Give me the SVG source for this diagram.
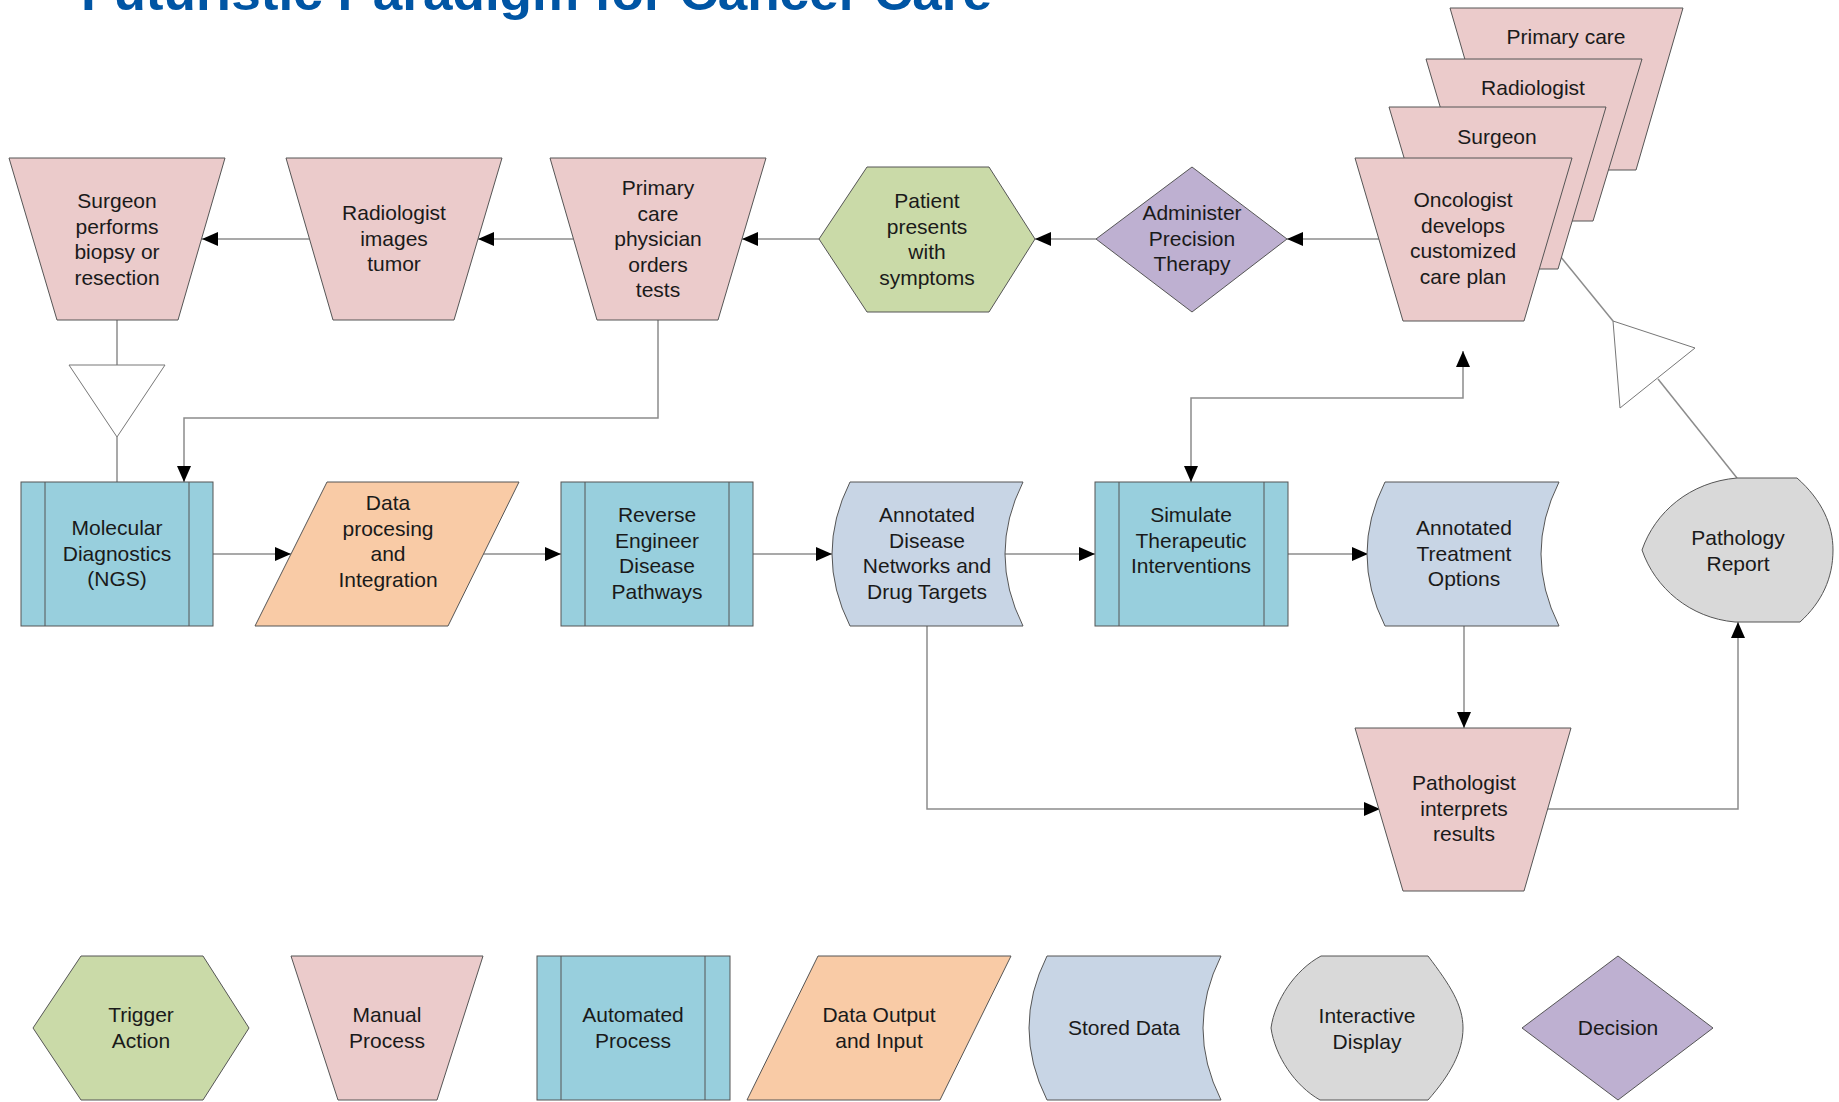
<svg xmlns="http://www.w3.org/2000/svg" width="1839" height="1102" viewBox="0 0 1839 1102">
<defs>
<marker id="ah" markerUnits="userSpaceOnUse" markerWidth="16" markerHeight="14" refX="16" refY="7" orient="auto-start-reverse">
<path d="M0,0 L16,7 L0,14 Z" fill="#000"/>
</marker>
<style>
text{font-family:"Liberation Sans",Arial,sans-serif;font-size:21px;fill:#1a1a1a;text-anchor:middle}
.title{font-weight:bold;font-size:50px;fill:#0055a4;text-anchor:start}
.man{fill:#ebcbcb;stroke:#555;stroke-width:1}
.auto{fill:#98cfdd;stroke:#555;stroke-width:1}
.io{fill:#f9cba6;stroke:#555;stroke-width:1}
.sto{fill:#c8d5e5;stroke:#555;stroke-width:1}
.disp{fill:#d9d9d9;stroke:#555;stroke-width:1}
.dec{fill:#beb0d1;stroke:#555;stroke-width:1}
.trig{fill:#cadaa8;stroke:#555;stroke-width:1}
.bar{fill:none;stroke:#555;stroke-width:1}
.c{fill:none;stroke:#8c8c8c;stroke-width:1.5}
.ca{fill:none;stroke:#8c8c8c;stroke-width:1.5;marker-end:url(#ah)}
.tri{fill:#fff;stroke:#777;stroke-width:1}
</style>
</defs>

<text class="title" x="81" y="10" textLength="911" lengthAdjust="spacingAndGlyphs">Futuristic Paradigm for Cancer Care</text>

<g id="connectors">
<line class="ca" x1="309" y1="239" x2="202" y2="239"/>
<line class="ca" x1="573" y1="239" x2="478" y2="239"/>
<line class="ca" x1="819" y1="239" x2="742" y2="239"/>
<line class="ca" x1="1096" y1="239" x2="1035" y2="239"/>
<line class="ca" x1="1379" y1="239" x2="1287" y2="239"/>
<line class="c" x1="117" y1="320" x2="117" y2="365"/>
<line class="c" x1="117" y1="437" x2="117" y2="482"/>
<polyline class="ca" points="658,320 658,418 184,418 184,482"/>
<line class="ca" x1="213" y1="554" x2="291" y2="554"/>
<line class="ca" x1="483" y1="554" x2="561" y2="554"/>
<line class="ca" x1="753" y1="554" x2="832" y2="554"/>
<line class="ca" x1="1005" y1="554" x2="1095" y2="554"/>
<line class="ca" x1="1288" y1="554" x2="1368" y2="554"/>
<polyline class="ca" style="marker-start:url(#ah)" points="1191,482 1191,398 1463,398 1463,351"/>
<line class="ca" x1="1464" y1="626" x2="1464" y2="728"/>
<polyline class="ca" points="927,626 927,809 1380,809"/>
<polyline class="ca" points="1547,809 1738,809 1738,622"/>
<line class="c" x1="1547" y1="240" x2="1613" y2="321"/>
<line class="c" x1="1658" y1="379" x2="1737" y2="478"/>
<polygon class="tri" points="69,365 165,365 117,437"/>
<polygon class="tri" points="1613,321 1695,348 1620,408"/>
</g>

<g id="surgeon-performs">
<polygon class="man" points="9,158 225,158 178,320 57,320"/>
<text x="117" y="208">Surgeon<tspan x="117" dy="25.5">performs</tspan><tspan x="117" dy="25.5">biopsy or</tspan><tspan x="117" dy="25.5">resection</tspan></text>
</g>
<g id="radiologist-images">
<polygon class="man" points="286,158 502,158 454,320 333,320"/>
<text x="394" y="220">Radiologist<tspan x="394" dy="25.5">images</tspan><tspan x="394" dy="25.5">tumor</tspan></text>
</g>
<g id="primary-care-orders">
<polygon class="man" points="550,158 766,158 718,320 597,320"/>
<text x="658" y="195">Primary<tspan x="658" dy="25.5">care</tspan><tspan x="658" dy="25.5">physician</tspan><tspan x="658" dy="25.5">orders</tspan><tspan x="658" dy="25.5">tests</tspan></text>
</g>
<g id="patient-presents">
<polygon class="trig" points="819,239 867,167 989,167 1035,239 989,312 867,312"/>
<text x="927" y="208">Patient<tspan x="927" dy="25.5">presents</tspan><tspan x="927" dy="25.5">with</tspan><tspan x="927" dy="25.5">symptoms</tspan></text>
</g>
<g id="administer-therapy">
<polygon class="dec" points="1096,239 1192,167 1287,239 1192,312"/>
<text x="1192" y="220">Administer<tspan x="1192" dy="25.5">Precision</tspan><tspan x="1192" dy="25.5">Therapy</tspan></text>
</g>
<g id="stack-primary-care">
<polygon class="man" points="1450,8 1683,8 1636,170 1497,170"/>
<text x="1566" y="44">Primary care</text>
</g>
<g id="stack-radiologist">
<polygon class="man" points="1426,59 1642,59 1593,221 1474,221"/>
<text x="1533" y="95">Radiologist</text>
</g>
<g id="stack-surgeon">
<polygon class="man" points="1389,107 1606,107 1558,269 1437,269"/>
<text x="1497" y="144">Surgeon</text>
</g>
<g id="oncologist">
<polygon class="man" points="1355,158 1572,158 1524,321 1403,321"/>
<text x="1463" y="207">Oncologist<tspan x="1463" dy="25.5">develops</tspan><tspan x="1463" dy="25.5">customized</tspan><tspan x="1463" dy="25.5">care plan</tspan></text>
</g>

<g id="molecular-diagnostics">
<rect class="auto" x="21" y="482" width="192" height="144"/>
<line class="bar" x1="45" y1="482" x2="45" y2="626"/>
<line class="bar" x1="189" y1="482" x2="189" y2="626"/>
<text x="117" y="535">Molecular<tspan x="117" dy="25.5">Diagnostics</tspan><tspan x="117" dy="25.5">(NGS)</tspan></text>
</g>
<g id="data-processing">
<polygon class="io" points="327,482 519,482 448,626 255,626"/>
<text x="388" y="510">Data<tspan x="388" dy="25.5">procesing</tspan><tspan x="388" dy="25.5">and</tspan><tspan x="388" dy="25.5">Integration</tspan></text>
</g>
<g id="reverse-engineer">
<rect class="auto" x="561" y="482" width="192" height="144"/>
<line class="bar" x1="585" y1="482" x2="585" y2="626"/>
<line class="bar" x1="729" y1="482" x2="729" y2="626"/>
<text x="657" y="522">Reverse<tspan x="657" dy="25.5">Engineer</tspan><tspan x="657" dy="25.5">Disease</tspan><tspan x="657" dy="25.5">Pathways</tspan></text>
</g>
<g id="annotated-disease">
<path class="sto" d="M850,482 L1023,482 Q987,554 1023,626 L850,626 Q814,554 850,482 Z"/>
<text x="927" y="522">Annotated<tspan x="927" dy="25.5">Disease</tspan><tspan x="927" dy="25.5">Networks and</tspan><tspan x="927" dy="25.5">Drug Targets</tspan></text>
</g>
<g id="simulate-interventions">
<rect class="auto" x="1095" y="482" width="193" height="144"/>
<line class="bar" x1="1119" y1="482" x2="1119" y2="626"/>
<line class="bar" x1="1264" y1="482" x2="1264" y2="626"/>
<text x="1191" y="522">Simulate<tspan x="1191" dy="25.5">Therapeutic</tspan><tspan x="1191" dy="25.5">Interventions</tspan></text>
</g>
<g id="annotated-treatment">
<path class="sto" d="M1385,482 L1559,482 Q1523,554 1559,626 L1385,626 Q1349,554 1385,482 Z"/>
<text x="1464" y="535">Annotated<tspan x="1464" dy="25.5">Treatment</tspan><tspan x="1464" dy="25.5">Options</tspan></text>
</g>
<g id="pathology-report">
<path class="disp" d="M1737,478 L1797,478 C1822,500 1833,525 1833,550 C1833,578 1822,602 1800,622 L1735,622 C1690,618 1655,588 1642,550 C1655,512 1690,482 1737,478 Z"/>
<text x="1738" y="545">Pathology<tspan x="1738" dy="25.5">Report</tspan></text>
</g>
<g id="pathologist">
<polygon class="man" points="1355,728 1571,728 1524,891 1403,891"/>
<text x="1464" y="790">Pathologist<tspan x="1464" dy="25.5">interprets</tspan><tspan x="1464" dy="25.5">results</tspan></text>
</g>

<g id="legend-trigger">
<polygon class="trig" points="33,1028 81,956 203,956 249,1028 203,1100 81,1100"/>
<text x="141" y="1022">Trigger<tspan x="141" dy="25.5">Action</tspan></text>
</g>
<g id="legend-manual">
<polygon class="man" points="291,956 483,956 437,1100 338,1100"/>
<text x="387" y="1022">Manual<tspan x="387" dy="25.5">Process</tspan></text>
</g>
<g id="legend-automated">
<rect class="auto" x="537" y="956" width="193" height="144"/>
<line class="bar" x1="561" y1="956" x2="561" y2="1100"/>
<line class="bar" x1="705" y1="956" x2="705" y2="1100"/>
<text x="633" y="1022">Automated<tspan x="633" dy="25.5">Process</tspan></text>
</g>
<g id="legend-data-io">
<polygon class="io" points="818,956 1011,956 940,1100 747,1100"/>
<text x="879" y="1022">Data Output<tspan x="879" dy="25.5">and Input</tspan></text>
</g>
<g id="legend-stored">
<path class="sto" d="M1047,956 L1221,956 Q1185,1028 1221,1100 L1047,1100 Q1011,1028 1047,956 Z"/>
<text x="1124" y="1035">Stored Data</text>
</g>
<g id="legend-display">
<path class="disp" d="M1321,956 L1428,956 C1450,985 1463,1005 1463,1028 C1463,1052 1450,1075 1428,1100 L1320,1100 C1295,1086 1275,1056 1271,1028 C1275,1000 1295,970 1321,956 Z"/>
<text x="1367" y="1023">Interactive<tspan x="1367" dy="25.5">Display</tspan></text>
</g>
<g id="legend-decision">
<polygon class="dec" points="1522,1028 1618,956 1713,1028 1618,1100"/>
<text x="1618" y="1035">Decision</text>
</g>
</svg>
